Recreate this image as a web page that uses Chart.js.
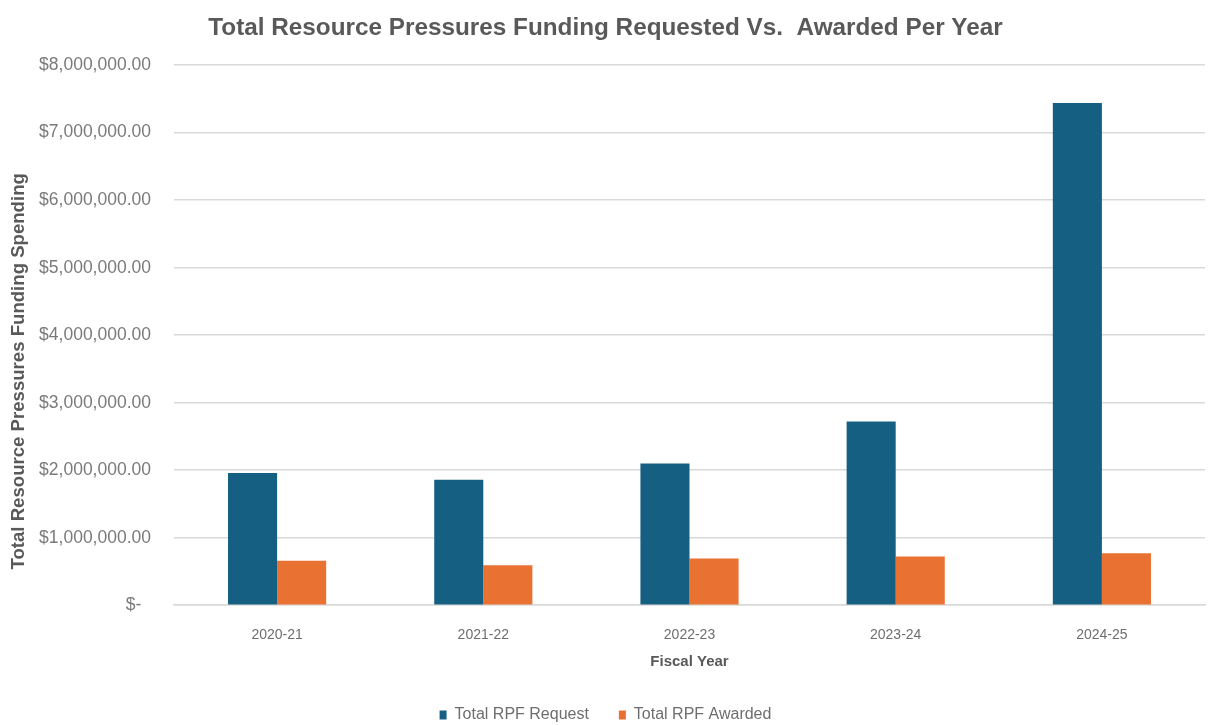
<!DOCTYPE html>
<html>
<head>
<meta charset="utf-8">
<title>Total Resource Pressures Funding Requested Vs. Awarded Per Year</title>
<script src="https://cdn.jsdelivr.net/npm/chart.js@4"></script>
<style>
  html, body { margin: 0; padding: 0; background: #ffffff; }
  #wrap { width: 1211px; height: 725px; position: relative; }
</style>
</head>
<body>
<div id="wrap"><canvas id="rpfChart"></canvas></div>
<script>
// Data
const fiscalYears = ['2020-21', '2021-22', '2022-23', '2023-24', '2024-25'];
const rpfRequested = [1960000, 1860000, 2100000, 2720000, 7440000];
const rpfAwarded = [660000, 590000, 690000, 720000, 770000];
const yTickValues = [0, 1000000, 2000000, 3000000, 4000000, 5000000, 6000000, 7000000, 8000000];

const FONT = "'Liberation Sans', Arial, sans-serif";
const GREY = '#595959';

function moneyLabel(value) {
    if (value === 0) return '$-  ';
    return '$' + value.toLocaleString('en-US', { minimumFractionDigits: 2, maximumFractionDigits: 2 });
}

const config = {
    type: 'bar',
    data: {
        labels: fiscalYears,
        datasets: [{
            label: 'Total RPF Request',
            data: rpfRequested,
            backgroundColor: '#156082'
        }, {
            label: 'Total RPF Awarded',
            data: rpfAwarded,
            backgroundColor: '#E97132'
        }]
    },
    options: {
        responsive: true,
        maintainAspectRatio: false,
        animation: false,
        layout: { padding: { top: 8, right: 6, left: 6, bottom: -8 } },
        datasets: {
            bar: { categoryPercentage: 0.476, barPercentage: 1.0 }
        },
        plugins: {
            title: {
                display: true,
                text: 'Total Resource Pressures Funding Requested Vs.  Awarded Per Year',
                color: GREY,
                font: { family: FONT, size: 24.3, weight: 'bold' },
                padding: { top: 6, bottom: 22 }
            },
            legend: {
                position: 'bottom',
                labels: {
                    color: '#6e6e6e',
                    font: { family: FONT, size: 16 },
                    boxWidth: 7,
                    boxHeight: 9,
                    padding: 30
                }
            },
            tooltip: { enabled: false }
        },
        scales: {
            x: {
                grid: { display: false },
                border: { color: '#d9d9d9', width: 1.5 },
                ticks: { color: '#6e6e6e', font: { family: FONT, size: 14 }, padding: 14 },
                title: {
                    display: true,
                    text: 'Fiscal Year',
                    color: GREY,
                    font: { family: FONT, size: 15, weight: 'bold' },
                    padding: { top: -5, bottom: 6 }
                }
            },
            y: {
                min: 0,
                max: 8000000,
                afterBuildTicks: axis => {
                    axis.ticks = yTickValues.map(v => ({ value: v }));
                },
                afterFit: axis => {
                    axis.width = 168;
                },
                grid: { color: '#d9d9d9', lineWidth: 1.5, drawTicks: false },
                border: { display: false },
                ticks: {
                    color: '#7a7a7a',
                    font: { family: FONT, size: 17.5 },
                    padding: 23,
                    callback: value => moneyLabel(value)
                },
                title: {
                    display: true,
                    // trailing spaces nudge the title down, as in the original
                    text: 'Total Resource Pressures Funding Spending              ',
                    color: GREY,
                    font: { family: FONT, size: 18.6, weight: 'bold' },
                    padding: { top: 2, bottom: 0 }
                }
            }
        }
    }
};

new Chart(document.getElementById('rpfChart'), config);
</script>
</body>
</html>
